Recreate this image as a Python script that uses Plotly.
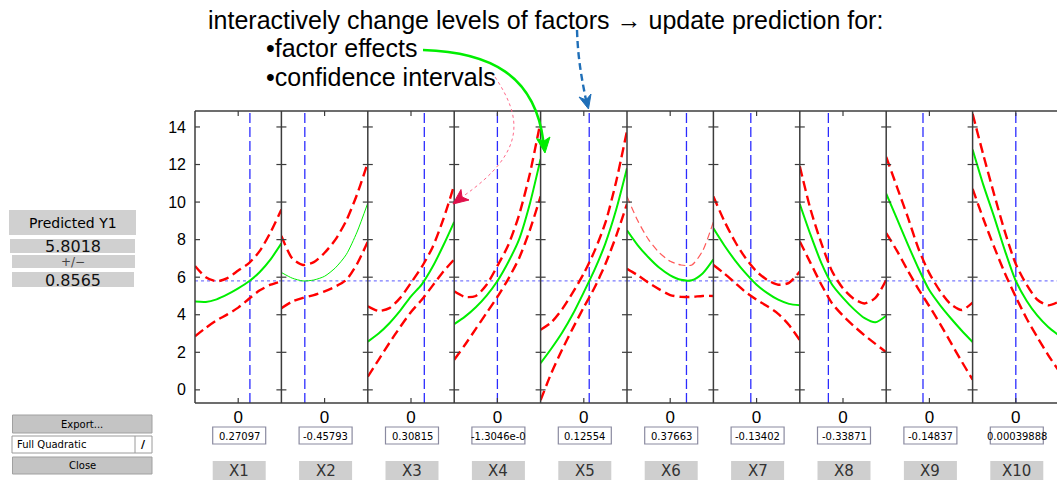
import plotly.graph_objects as go

# ---------------- data ----------------
factor_names = ["X1", "X2", "X3", "X4", "X5", "X6", "X7", "X8", "X9", "X10"]
factor_values = [0.27097, -0.45793, 0.30815, -1.3046e-05, 0.12554,
                 0.37663, -0.13402, -0.33871, -0.14837, 0.00039888]
factor_value_text = ["0.27097", "-0.45793", "0.30815", "-1.3046e-0", "0.12554",
                     "0.37663", "-0.13402", "-0.33871", "-0.14837", "0.00039888"]
predicted_y = 5.8018
ci_halfwidth = 0.8565

grid_x = [-1, -0.75, -0.5, -0.25, 0, 0.25, 0.5, 0.75, 1]

predicted = [
    [4.70, 4.68, 4.82, 5.08, 5.40, 5.78, 6.28, 6.95, 7.80],     # X1
    [6.25, 5.95, 5.80, 5.85, 6.05, 6.50, 7.20, 8.40, 9.95],     # X2
    [2.57, 3.00, 3.55, 4.22, 4.98, 5.62, 6.55, 7.70, 8.95],     # X3
    [3.50, 3.90, 4.40, 5.02, 5.80, 6.80, 8.00, 9.90, 12.3],     # X4
    [1.42, 2.20, 3.05, 4.05, 5.20, 6.40, 7.80, 9.60, 11.8],     # X5
    [8.50, 7.70, 7.05, 6.50, 6.10, 5.86, 5.84, 6.20, 6.95],     # X6
    [8.60, 7.70, 6.90, 6.20, 5.60, 5.15, 4.80, 4.58, 4.50],     # X7
    [9.90, 8.25, 6.75, 5.60, 4.90, 4.30, 3.82, 3.60, 3.95],     # X8
    [10.45, 9.10, 7.75, 6.45, 5.30, 4.50, 3.80, 3.15, 2.55],    # X9
    [12.8, 10.9, 9.20, 7.40, 5.80, 4.75, 3.95, 3.35, 2.90],     # X10
]
upper_ci = [
    [6.60, 6.00, 5.78, 5.95, 6.35, 6.75, 7.40, 8.40, 9.60],
    [8.20, 7.00, 6.65, 6.80, 7.30, 8.00, 9.00, 10.4, 12.1],
    [4.45, 4.20, 4.35, 4.90, 5.70, 6.55, 7.60, 9.10, 10.9],
    [5.25, 4.95, 5.00, 5.60, 6.60, 7.70, 9.30, 11.5, 14.3],
    [3.20, 3.60, 4.30, 5.20, 6.20, 7.40, 8.90, 11.1, 13.8],
    [10.3, 9.00, 8.00, 7.30, 6.85, 6.65, 6.65, 7.40, 8.95],
    [10.3, 9.00, 7.90, 7.00, 6.30, 5.85, 5.60, 5.70, 6.30],
    [11.9, 9.60, 7.80, 6.30, 5.40, 4.85, 4.60, 4.90, 5.85],
    [12.4, 10.8, 9.20, 7.50, 6.20, 5.25, 4.55, 4.25, 4.65],
    [14.7, 12.5, 10.4, 8.40, 6.70, 5.60, 4.80, 4.50, 4.70],
]
lower_ci = [
    [2.85, 3.30, 3.70, 4.02, 4.38, 4.85, 5.30, 5.60, 5.78],
    [4.35, 4.70, 4.90, 5.05, 5.25, 5.50, 5.85, 6.70, 7.90],
    [0.70, 1.60, 2.50, 3.35, 4.15, 4.80, 5.55, 6.30, 6.95],
    [1.60, 2.40, 3.25, 4.10, 4.95, 5.90, 7.00, 8.50, 10.3],
    [-0.55, 0.90, 2.15, 3.30, 4.40, 5.45, 6.70, 8.20, 9.90],
    [6.45, 6.10, 5.70, 5.35, 5.05, 4.95, 4.95, 5.00, 5.00],
    [6.65, 6.20, 5.70, 5.20, 4.80, 4.45, 4.05, 3.45, 2.65],
    [7.90, 6.75, 5.60, 4.60, 3.95, 3.40, 2.90, 2.45, 2.00],
    [8.35, 7.40, 6.35, 5.35, 4.45, 3.50, 2.50, 1.50, 0.55],
    [10.7, 9.10, 7.60, 6.20, 4.95, 3.80, 2.80, 1.85, 1.00],
]
y_ticks = [0, 2, 4, 6, 8, 10, 12, 14]

# ---------------- geometry / style ----------------
W, H = 1057, 483
def px(x): return x / W
def py(y): return 1 - y / H

PANEL_LEFT, PANEL_W = 195.0, 86.4
PLOT_TOP, PLOT_BOTTOM = 111, 403
Y_RANGE = [-0.7, 14.85]
AXIS_COLOR = "#3c3c3c"
FONT = "Liberation Sans, Arial, sans-serif"
UI_FONT = "DejaVu Sans, sans-serif"

fig = go.Figure()
layout = dict(
    width=W, height=H, margin=dict(l=0, r=0, t=0, b=0),
    paper_bgcolor="white", plot_bgcolor="white", showlegend=False,
    hovermode=False,
)
shapes = []
annotations = []

for i, name in enumerate(factor_names):
    x0 = PANEL_LEFT + PANEL_W * i
    x1 = min(x0 + PANEL_W, W)
    xr_hi = -1 + 2 * (x1 - x0) / PANEL_W
    xa = "x" if i == 0 else f"x{i+1}"
    ya = "y" if i == 0 else f"y{i+1}"
    xkey = "xaxis" if i == 0 else f"xaxis{i+1}"
    ykey = "yaxis" if i == 0 else f"yaxis{i+1}"
    layout[xkey] = dict(
        domain=[px(x0), px(x1)], range=[-1, xr_hi], anchor=ya,
        tickvals=[0], ticktext=["0"], ticks="", showline=False,
        showgrid=False, zeroline=False, ticklabelstandoff=2,
        tickfont=dict(family=FONT, size=17, color="black"),
    )
    layout[ykey] = dict(
        domain=[py(PLOT_BOTTOM), py(PLOT_TOP)], range=Y_RANGE, anchor=xa,
        tickvals=y_ticks, ticks="", showline=False,
        showgrid=False, zeroline=False, showticklabels=(i == 0),
        ticklabelstandoff=8,
        tickfont=dict(family=FONT, size=16, color="black"),
    )
    # reference lines
    fig.add_trace(go.Scatter(x=[-1, 1], y=[predicted_y, predicted_y], xaxis=xa, yaxis=ya,
                             mode="lines", line=dict(color="#7a7aff", width=1.2, dash="dot")))
    fig.add_trace(go.Scatter(x=[factor_values[i]] * 2, y=Y_RANGE, xaxis=xa, yaxis=ya,
                             mode="lines", line=dict(color="#2b2bff", width=1.3, dash="10px,4px")))
    # confidence bounds
    up_style = dict(color="#ff5a5a", width=1.2, dash="7px,4px") if name == "X6" else \
        dict(color="#ff0000", width=2.4, dash="10px,5px")
    fig.add_trace(go.Scatter(x=grid_x, y=upper_ci[i], xaxis=xa, yaxis=ya, mode="lines",
                             line=dict(shape="spline", smoothing=0.7, **up_style)))
    fig.add_trace(go.Scatter(x=grid_x, y=lower_ci[i], xaxis=xa, yaxis=ya, mode="lines",
                             line=dict(shape="spline", smoothing=0.7, color="#ff0000",
                                       width=2.4, dash="10px,5px")))
    fig.add_trace(go.Scatter(x=grid_x, y=predicted[i], xaxis=xa, yaxis=ya, mode="lines",
                             line=dict(shape="spline", smoothing=0.7, color="#00ee00",
                                       width=1.0 if name == "X2" else 2.0)))

    # panel frame: left border, ticks
    shapes.append(dict(type="line", xref="paper", yref="paper", layer="above",
                       x0=px(x0), x1=px(x0), y0=py(PLOT_BOTTOM), y1=py(PLOT_TOP),
                       line=dict(color=AXIS_COLOR, width=1.5)))
    for t in y_ticks:
        shapes.append(dict(type="line", xref="paper", yref=ya, layer="above",
                           x0=px(x0 - (0 if i == 0 else 5)), x1=px(x0 + 5), y0=t, y1=t,
                           line=dict(color=AXIS_COLOR, width=1.2)))
    cx = x0 + PANEL_W / 2
    for (ya0, ya1) in [(PLOT_TOP, PLOT_TOP + 5), (PLOT_BOTTOM - 5, PLOT_BOTTOM)]:
        shapes.append(dict(type="line", xref="paper", yref="paper", layer="above",
                           x0=px(cx), x1=px(cx), y0=py(ya0), y1=py(ya1),
                           line=dict(color=AXIS_COLOR, width=1.2)))

# top and bottom frame lines
for yy in (PLOT_TOP, PLOT_BOTTOM):
    shapes.append(dict(type="line", xref="paper", yref="paper", layer="above",
                       x0=px(PANEL_LEFT), x1=1, y0=py(yy), y1=py(yy),
                       line=dict(color=AXIS_COLOR, width=1.5)))

fig.update_layout(**layout)


def box(x0, y0, x1, y1, fill, line_color=None, lw=0):
    shapes.append(dict(type="rect", xref="paper", yref="paper",
                       x0=px(x0), x1=px(x1), y0=py(y1), y1=py(y0),
                       fillcolor=fill, line=dict(color=line_color or fill, width=lw),
                       layer="above"))


def text(x, y, s, size, family=FONT, color="black", xanchor="center"):
    annotations.append(dict(x=px(x), y=py(y), xref="paper", yref="paper", text=s,
                            showarrow=False, xanchor=xanchor, yanchor="middle",
                            font=dict(family=family, size=size, color=color)))


# bottom: value boxes and factor name boxes
for i, name in enumerate(factor_names):
    cx = PANEL_LEFT + PANEL_W * (i + 0.5) + 1
    box(cx - 26.5, 427, cx + 26.5, 444, "white", "#8a8aa0", 1.2)
    text(cx, 436, factor_value_text[i], 10, UI_FONT)
    box(cx - 26.5, 461, cx + 26.5, 480, "#cfcfcf")
    text(cx, 470.5, name, 15, UI_FONT, "#333333")

# left panel widgets
box(9, 210, 136, 235, "#d0d0d0")
text(72.5, 222.5, "Predicted Y1", 14, UI_FONT)
box(10, 239, 135, 253, "#d0d0d0")
text(72.5, 246.5, "5.8018", 16, UI_FONT, "#111111")
box(12, 255, 135, 268, "#d0d0d0")
text(72.5, 261.5, "+/\u2212", 12, UI_FONT, "#444444")
box(12, 272, 134, 287, "#d0d0d0")
text(72.5, 280, "0.8565", 16, UI_FONT, "#111111")

box(12.5, 415, 152, 433, "#c4c4c4", "#a0a0a0", 1)
text(82, 424, "Export...", 10, UI_FONT)
box(12, 436, 152, 453, "white", "#9a9a9a", 1)
shapes.append(dict(type="line", xref="paper", yref="paper", x0=px(135), x1=px(135),
                   y0=py(436), y1=py(453), line=dict(color="#9a9a9a", width=1)))
text(15, 444.5, "Full Quadratic", 10, UI_FONT, xanchor="left")
text(143.5, 444.5, "<b>/</b>", 11, UI_FONT)
box(12.5, 457, 152, 474, "#c4c4c4", "#a0a0a0", 1)
text(82, 465.5, "Close", 10, UI_FONT)

# explanatory text
text(206, 20, "interactively change levels of factors \u2192 update prediction for:", 25,
     xanchor="left")
text(264, 48, "\u2022factor effects", 25, xanchor="left")
text(264, 77, "\u2022confidence intervals", 25, xanchor="left")


def P(x, y):
    return f"{px(x):.5f},{py(y):.5f}"


# green curved arrow
shapes.append(dict(type="path", xref="paper", yref="paper", layer="above",
                   path=f"M {P(423,50)} C {P(490,52)} {P(535,75)} {P(543.5,142)}",
                   line=dict(color="#00ee00", width=2.5)))
shapes.append(dict(type="path", xref="paper", yref="paper", layer="above",
                   path=f"M {P(545,153)} L {P(536.5,138.5)} L {P(544,141)} L {P(550,137)} Z",
                   fillcolor="#00ee00", line=dict(color="#00ee00", width=1)))
# red dotted curved arrow
shapes.append(dict(type="path", xref="paper", yref="paper", layer="above",
                   path=f"M {P(495,77)} C {P(520,115)} {P(530,150)} {P(462,197)}",
                   line=dict(color="#ff6a8a", width=1, dash="dot")))
shapes.append(dict(type="path", xref="paper", yref="paper", layer="above",
                   path=f"M {P(453,204)} L {P(461,189.5)} L {P(462,197)} L {P(469,200)} Z",
                   fillcolor="#e0104a", line=dict(color="#e0104a", width=1)))
# blue dashed arrow
shapes.append(dict(type="path", xref="paper", yref="paper", layer="above",
                   path=f"M {P(577,30)} C {P(578,60)} {P(582,80)} {P(586,100)}",
                   line=dict(color="#1f6fb8", width=2.4, dash="7px,4px")))
shapes.append(dict(type="path", xref="paper", yref="paper", layer="above",
                   path=f"M {P(588.5,109)} L {P(579,97)} L {P(586,100)} L {P(591,94)} Z",
                   fillcolor="#1f6fb8", line=dict(color="#1f6fb8", width=1)))

fig.update_layout(shapes=shapes, annotations=annotations)
fig.write_html("out.html")
